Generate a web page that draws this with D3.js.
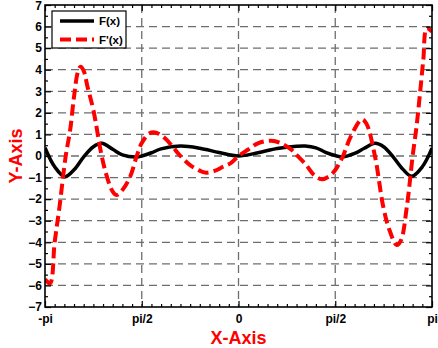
<!DOCTYPE html>
<html>
<head>
<meta charset="utf-8">
<script src="https://cdn.jsdelivr.net/npm/d3@7"></script>
<style>
  html, body { margin: 0; padding: 0; background: #fff; }
  svg { display: block; }
  text { font-family: "Liberation Sans", Arial, Helvetica, sans-serif; font-weight: bold; }
</style>
</head>
<body>
<script>
// x positions are in units of pi
const fX = [-1.0, -0.95, -0.897, -0.85, -0.8, -0.75, -0.707, -0.65, -0.6, -0.526, -0.5, -0.45, -0.4, -0.3, -0.2, -0.1, 0.0,
            0.1, 0.2, 0.3, 0.344, 0.4, 0.45, 0.5, 0.54, 0.6, 0.65, 0.705, 0.75, 0.8, 0.85, 0.895, 0.95, 1.0];
const fY = [0.38, -0.5, -0.96, -0.64, -0.04, 0.43, 0.59, 0.31, 0.05, -0.05, 0.0, 0.15, 0.33, 0.46, 0.36, 0.16, 0.0,
            0.15, 0.35, 0.45, 0.46, 0.38, 0.17, 0.02, -0.04, 0.12, 0.36, 0.59, 0.43, -0.05, -0.62, -0.94, -0.5, 0.36];

const dX = [-1.0, -0.974, -0.95, -0.925, -0.893, -0.87, -0.85, -0.83, -0.816, -0.8, -0.78, -0.75, -0.707, -0.68, -0.65, -0.63,
            -0.6, -0.56, -0.526, -0.5, -0.46, -0.426, -0.38, -0.34, -0.3, -0.25, -0.2, -0.173, -0.12, -0.08, -0.04, 0.0,
            0.05, 0.1, 0.17, 0.22, 0.275, 0.3, 0.35, 0.39, 0.43, 0.47, 0.5, 0.54, 0.58, 0.637, 0.66, 0.705, 0.748, 0.78,
            0.818, 0.84, 0.87, 0.9, 0.92, 0.938, 0.955, 0.973, 1.0];
const dY = [-5.72, -5.9, -4.0, -2.35, 0.0, 1.2, 2.75, 3.9, 4.14, 3.95, 3.2, 2.13, 0.0, -0.96, -1.65, -1.81,
            -1.58, -0.96, 0.0, 0.6, 1.05, 1.08, 0.82, 0.43, 0.0, -0.42, -0.68, -0.77, -0.68, -0.5, -0.33, 0.0,
            0.3, 0.59, 0.71, 0.59, 0.28, 0.05, -0.42, -0.88, -1.08, -0.93, -0.65, 0.0, 0.9, 1.7, 1.52, 0.0, -2.35, -3.43,
            -4.13, -3.9, -2.35, 0.0, 1.36, 2.9, 4.45, 5.92, 5.76];

const xTickPos = [-1, -0.5, 0, 0.5, 1];
const xTickLabels = ["-pi", "pi/2", "0", "pi/2", "pi"];
const yTicks = [-7, -6, -5, -4, -3, -2, -1, 0, 1, 2, 3, 4, 5, 6, 7];
const seriesNames = ["F(x)", "F'(x)"];

const W = 438, H = 348;
const L = 45, R = 432, T = 5, B = 307;

const svg = d3.select("body").append("svg").attr("width", W).attr("height", H);
const x = d3.scaleLinear().domain([-1, 1]).range([L, R]);
const y = d3.scaleLinear().domain([-7, 7]).range([B, T]);

// grid
const grid = svg.append("g").attr("stroke", "#6e6e6e").attr("stroke-width", 1.3).attr("stroke-dasharray", "8,5");
grid.selectAll("line.h").data(yTicks.filter(d => d > -7 && d < 7)).join("line")
  .attr("x1", L).attr("x2", R).attr("y1", d => y(d)).attr("y2", d => y(d));
grid.selectAll("line.v").data(xTickPos.filter(d => d > -1 && d < 1)).join("line")
  .attr("y1", T).attr("y2", B).attr("x1", d => x(d)).attr("x2", d => x(d));

// curves
svg.append("clipPath").attr("id", "clip").append("rect")
  .attr("x", L).attr("y", T).attr("width", R - L).attr("height", B - T);
const line = d3.line().x(d => x(d[0])).y(d => y(d[1])).curve(d3.curveCatmullRom.alpha(0.5));
const cg = svg.append("g").attr("clip-path", "url(#clip)");
cg.append("path").attr("d", line(fX.map((v, i) => [v, fY[i]])))
  .attr("fill", "none").attr("stroke", "#000").attr("stroke-width", 3.5);
cg.append("path").attr("d", line(dX.map((v, i) => [v, dY[i]])))
  .attr("fill", "none").attr("stroke", "#ff0000").attr("stroke-width", 4).attr("stroke-dasharray", "11,5");

// axes
const minorX = d3.range(-20, 21).map(i => i / 20).filter(v => !xTickPos.some(p => Math.abs(p - v) < 1e-9));
const minorY = d3.range(-7, 7).map(v => v + 0.5);

const ax = (g) => { g.select(".domain").remove(); g.selectAll("line").attr("stroke", "#000").attr("stroke-width", 1.2); };

svg.append("g").attr("transform", `translate(0,${B})`)
  .call(d3.axisBottom(x).tickValues(xTickPos).tickSize(-6).tickPadding(7).tickFormat((d, i) => xTickLabels[i]))
  .call(ax).call(g => g.selectAll("text").attr("font-size", 12).attr("fill", "#000"));
svg.append("g").attr("transform", `translate(0,${B})`)
  .call(d3.axisBottom(x).tickValues(minorX).tickSize(-3).tickFormat("")).call(ax);
svg.append("g").attr("transform", `translate(0,${T})`)
  .call(d3.axisTop(x).tickValues(xTickPos).tickSize(-6).tickFormat("")).call(ax);
svg.append("g").attr("transform", `translate(0,${T})`)
  .call(d3.axisTop(x).tickValues(minorX).tickSize(-3).tickFormat("")).call(ax);

svg.append("g").attr("transform", `translate(${L},0)`)
  .call(d3.axisLeft(y).tickValues(yTicks).tickSize(-6).tickPadding(3).tickFormat(d3.format("d")))
  .call(ax).call(g => g.selectAll("text").attr("font-size", 12).attr("fill", "#000")
    .filter(d => d === 7).attr("dy", "0.4em"));
svg.append("g").attr("transform", `translate(${L},0)`)
  .call(d3.axisLeft(y).tickValues(minorY).tickSize(-3).tickFormat("")).call(ax);
svg.append("g").attr("transform", `translate(${R},0)`)
  .call(d3.axisRight(y).tickValues(yTicks).tickSize(-6).tickFormat("")).call(ax);
svg.append("g").attr("transform", `translate(${R},0)`)
  .call(d3.axisRight(y).tickValues(minorY).tickSize(-3).tickFormat("")).call(ax);

// frame
svg.append("rect").attr("x", L).attr("y", T).attr("width", R - L).attr("height", B - T)
  .attr("fill", "none").attr("stroke", "#000").attr("stroke-width", 1.6);

// titles
svg.append("text").attr("x", (L + R) / 2).attr("y", 344).attr("text-anchor", "middle")
  .attr("font-size", 18).attr("fill", "#ff0000").text("X-Axis");
svg.append("text").attr("transform", `translate(22,${(T + B) / 2}) rotate(-90)`).attr("text-anchor", "middle")
  .attr("font-size", 18).attr("fill", "#ff0000").text("Y-Axis");

// legend
const lg = svg.append("g");
lg.append("rect").attr("x", 52).attr("y", 11).attr("width", 74).attr("height", 37)
  .attr("fill", "#fff").attr("stroke", "#000").attr("stroke-width", 1.2);
const legendStyles = [{ c: "#000", w: 3.5, dash: null }, { c: "#ff0000", w: 4, dash: "11,5" }];
seriesNames.forEach((name, i) => {
  const yy = 21 + i * 18.5;
  const l = lg.append("line").attr("x1", 60).attr("x2", 94).attr("y1", yy).attr("y2", yy)
    .attr("stroke", legendStyles[i].c).attr("stroke-width", legendStyles[i].w);
  if (legendStyles[i].dash) l.attr("stroke-dasharray", legendStyles[i].dash);
  lg.append("text").attr("x", 99).attr("y", yy).attr("dy", "0.36em").attr("font-size", 11.5)
    .attr("fill", "#000").text(name);
});
</script>
</body>
</html>
